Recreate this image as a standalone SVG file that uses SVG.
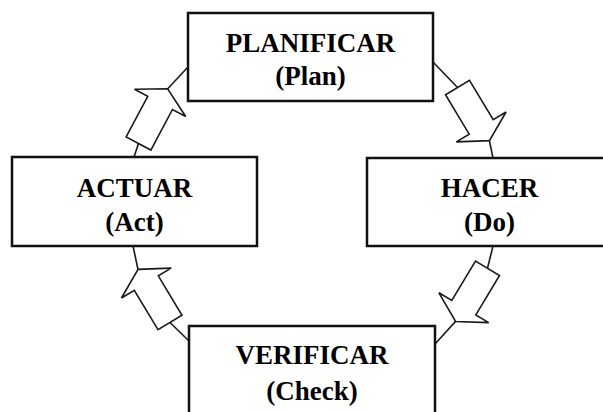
<svg xmlns="http://www.w3.org/2000/svg" xmlns:xlink="http://www.w3.org/1999/xlink" width="603" height="412" viewBox="0 0 603 412">
  <style>
    .box { fill: #ffffff; stroke: #111111; stroke-width: 2.5; }
    .lbl { font-family: "Liberation Serif", "Times New Roman", serif; font-weight: bold; font-size: 27px; fill: #000000; text-anchor: middle; }
    .link { stroke: #1a1a1a; stroke-width: 1.6; fill: none; }
    .blk { fill: #ffffff; stroke: #1a1a1a; stroke-width: 1.6; stroke-linejoin: miter; }
  </style>
  <defs>
    <!-- block arrow, tail at origin, pointing along +x -->
    <polygon id="blockArrow" class="blk" points="0,-14 46,-14 46,-29 62,0 46,29 46,14 0,14"/>
  </defs>

  <rect width="603" height="412" fill="#ffffff"/>

  <!-- connectors: thin leads plus hollow block arrows -->
  <g id="connectors">
    <!-- Actuar -> Planificar -->
    <line class="link" x1="134" y1="157" x2="138.5" y2="143.5"/>
    <line class="link" x1="167.5" y1="89" x2="188" y2="67"/>
    <use xlink:href="#blockArrow" transform="translate(138.5,143.5) rotate(-62)"/>
    <!-- Planificar -> Hacer -->
    <line class="link" x1="433" y1="62" x2="457.5" y2="87.5"/>
    <line class="link" x1="489.4" y1="140.6" x2="493" y2="158"/>
    <use xlink:href="#blockArrow" transform="translate(457.5,87.5) rotate(59)"/>
    <!-- Hacer -> Verificar -->
    <line class="link" x1="493" y1="246" x2="487.5" y2="268.3"/>
    <line class="link" x1="455.6" y1="321.4" x2="435" y2="344"/>
    <use xlink:href="#blockArrow" transform="translate(487.5,268.3) rotate(121)"/>
    <!-- Verificar -> Actuar -->
    <line class="link" x1="189" y1="341" x2="170" y2="322.5"/>
    <line class="link" x1="138" y1="269.5" x2="133" y2="246"/>
    <use xlink:href="#blockArrow" transform="translate(170,322.5) rotate(-121)"/>
  </g>

  <g id="planificar">
    <rect class="box" x="188" y="13" width="245" height="88"/>
    <text class="lbl" x="310.5" y="52">PLANIFICAR</text>
    <text class="lbl" x="310.5" y="85">(Plan)</text>
  </g>

  <g id="hacer">
    <rect class="box" x="367" y="158" width="245" height="88"/>
    <text class="lbl" x="489.5" y="197">HACER</text>
    <text class="lbl" x="489.5" y="231">(Do)</text>
  </g>

  <g id="actuar">
    <rect class="box" x="12" y="157" width="245" height="89"/>
    <text class="lbl" x="134.5" y="197">ACTUAR</text>
    <text class="lbl" x="134.5" y="231">(Act)</text>
  </g>

  <g id="verificar">
    <rect class="box" x="189" y="326" width="246" height="88"/>
    <text class="lbl" x="312" y="364">VERIFICAR</text>
    <text class="lbl" x="312" y="400">(Check)</text>
  </g>
</svg>
